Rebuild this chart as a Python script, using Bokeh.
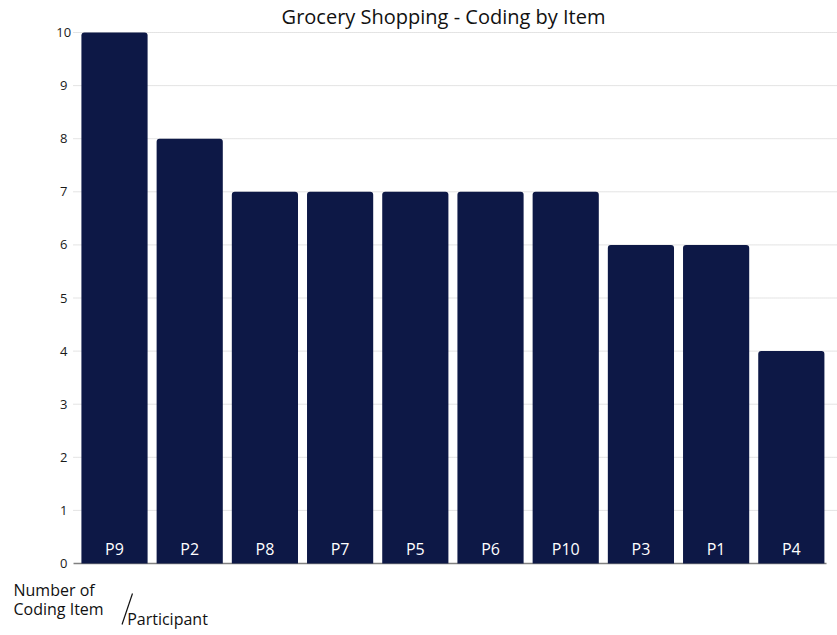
from bokeh.plotting import figure
from bokeh.models import ColumnDataSource, Range1d, Label
from bokeh.embed import file_html
from bokeh.resources import INLINE

participants = ["P9", "P2", "P8", "P7", "P5", "P6", "P10", "P3", "P1", "P4"]
coding_items = [10, 8, 7, 7, 7, 7, 7, 6, 6, 4]
y_ticks = [0, 1, 2, 3, 4, 5, 6, 7, 8, 9, 10]
y_tick_labels = [str(t) for t in y_ticks]

title_text = "Grocery Shopping - Coding by Item"
y_label_lines = ["Number of", "Coding Item"]
x_label = "Participant"

FONT = "Open Sans"
BAR_COLOR = "#0d1846"
TEXT_COLOR = "#111111"

idx = list(range(len(participants)))
bars = ColumnDataSource(dict(x=idx, top=coding_items, name=participants,
                             lab_y=[0.27] * len(participants)))

p = figure(width=837, height=635, output_backend="svg", toolbar_location=None,
           x_range=Range1d(-1.516, 9.614), y_range=Range1d(-1.356, 10.603),
           x_axis_location=None, y_axis_location=None,
           min_border=0)
p.outline_line_color = None
p.grid.visible = False

# grid lines (dotted) at y ticks, baseline solid
grid = ColumnDataSource(dict(y=y_ticks[1:], x0=[-0.545] * 10, x1=[9.614] * 10))
p.segment(x0="x0", x1="x1", y0="y", y1="y", source=grid,
          line_color="#c8c8c8", line_width=1, line_dash="1 1")
p.segment(x0=-0.545, x1=9.468, y0=y_ticks[0], y1=y_ticks[0],
          line_color="#808080", line_width=1.5)

p.vbar(x="x", top="top", bottom=0, width=0.88, source=bars,
       fill_color=BAR_COLOR, line_color=None,
       border_radius={"top_left": 3, "top_right": 3, "bottom_right": 0, "bottom_left": 0})

p.text(x="x", y="lab_y", text="name", source=bars, text_color="white",
       text_align="center", text_baseline="middle", text_font_size="16px",
       text_font={"value": FONT})

# y tick labels
ticks = ColumnDataSource(dict(y=y_ticks, t=y_tick_labels, x=[-0.675] * len(y_ticks)))
p.text(x="x", y="y", text="t", source=ticks, text_color="#1a1a1a",
       text_align="center", text_baseline="middle", text_font_size="13px",
       text_font={"value": FONT})

p.add_layout(Label(x=4.375, y=10.30, text=title_text, text_align="center",
                   text_baseline="middle", text_font=FONT, text_font_size="20px",
                   text_color=TEXT_COLOR))
p.add_layout(Label(x=-1.343, y=-0.49, text=y_label_lines[0], text_align="left",
                   text_baseline="middle", text_font=FONT, text_font_size="16px",
                   text_color=TEXT_COLOR))
p.add_layout(Label(x=-1.343, y=-0.86, text=y_label_lines[1], text_align="left",
                   text_baseline="middle", text_font=FONT, text_font_size="16px",
                   text_color=TEXT_COLOR))
p.segment(x0=0.100, y0=-1.149, x1=0.239, y1=-0.565, line_color=TEXT_COLOR, line_width=1.2)
p.add_layout(Label(x=0.168, y=-1.04, text=x_label, text_align="left",
                   text_baseline="middle", text_font=FONT, text_font_size="16px",
                   text_color=TEXT_COLOR))

open("out.html", "w").write(file_html(p, INLINE))
